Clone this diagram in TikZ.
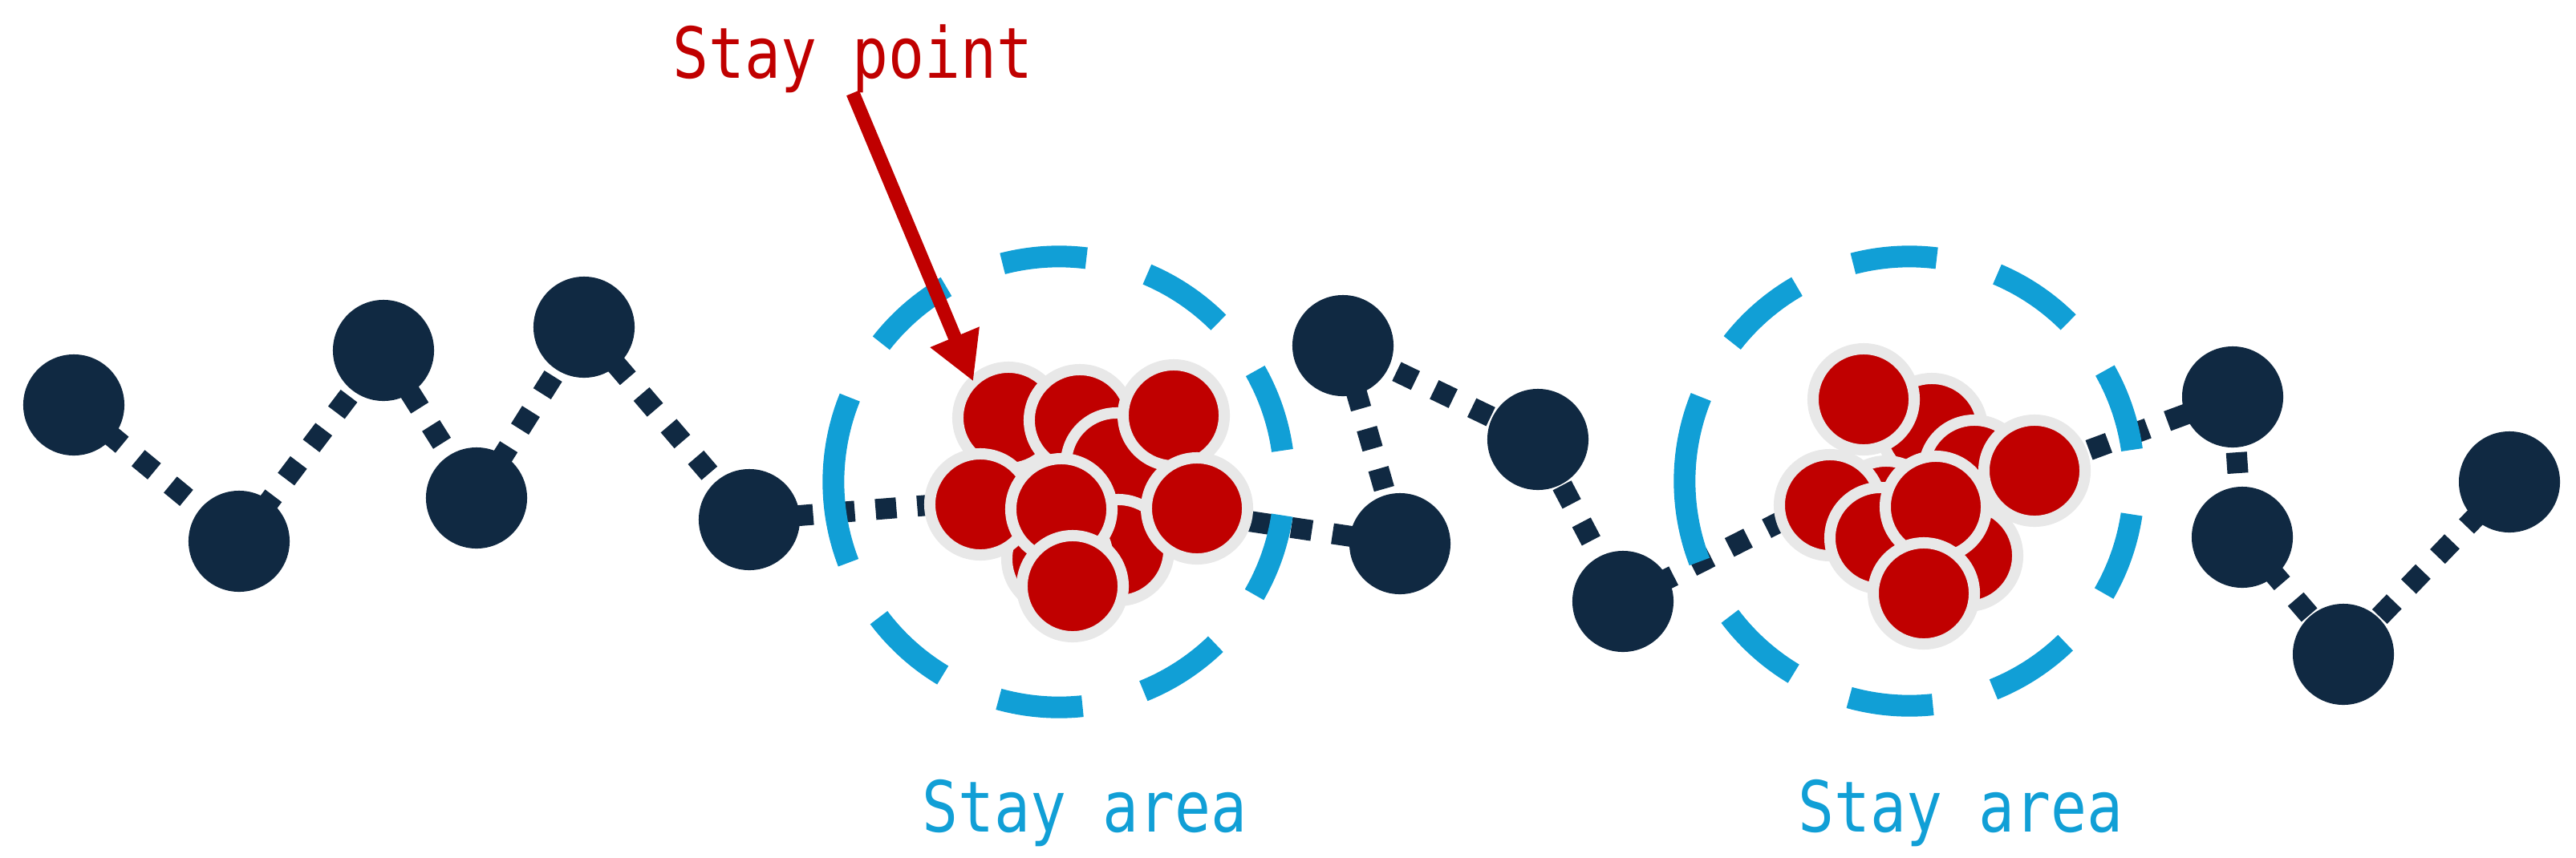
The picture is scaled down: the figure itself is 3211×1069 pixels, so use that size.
\documentclass[tikz,border=0pt]{standalone}
\usepackage{fontspec}
\newfontfamily\labfont[FakeStretch=0.85]{DejaVu Sans Mono}
\usetikzlibrary{arrows.meta}
\definecolor{navy}{HTML}{102942}
\definecolor{areablue}{HTML}{119FD6}
\definecolor{spred}{HTML}{C00000}
\definecolor{ringgray}{HTML}{E8E8E8}
\pgfdeclarelayer{tracklayer}
\pgfdeclarelayer{ringlayer}
\pgfsetlayers{tracklayer,ringlayer,main}
\begin{document}
\begin{tikzpicture}[x=0.01cm,y=-0.01cm,
  track/.style={navy, line width=0.26cm, dash pattern=on 0.26cm off 0.26cm},
  gps/.style={circle, fill=navy, minimum size=1.26cm, inner sep=0pt, outer sep=0pt},
  staypt/.style={circle, fill=spred, draw=ringgray, line width=0.14cm, minimum size=1.26cm, inner sep=0pt, outer sep=0pt},
  arearing/.style={areablue, line width=0.27cm},
  lab/.style={font=\labfont\fontsize{25}{30}\selectfont, inner sep=0pt, anchor=base}]
\useasboundingbox (0,0) rectangle (3211,1069);

% trajectory points
\node[gps] (n1) at (92,505) {};
\node[gps] (n2) at (298,675) {};
\node[gps] (n3) at (478,437) {};
\node[gps] (n4) at (594,621) {};
\node[gps] (n5) at (728,408) {};
\node[gps] (n6) at (934,648) {};
\node[gps] (n7) at (1674,431) {};
\node[gps] (n8) at (1745,678) {};
\node[gps] (n9) at (1917,548) {};
\node[gps] (n10) at (2023,750) {};
\node[gps] (n11) at (2783,495) {};
\node[gps] (n12) at (2795,670) {};
\node[gps] (n13) at (3128,601) {};
\node[gps] (n14) at (2921,816) {};
\coordinate (c1a) at (1220,625);
\coordinate (c1b) at (1490,640);
\coordinate (c2a) at (2250,635);
\coordinate (c2b) at (2540,585);
\coordinate (a1) at (1320,601);
\coordinate (a2) at (2380,600);

% dashed track (bottom layer)
\begin{pgfonlayer}{tracklayer}
\draw[track] (n1.center) -- (n2.center) -- (n3.center) -- (n4.center) -- (n5.center) -- (n6.center)
  -- (c1a) -- (c1b) -- (n8.center) -- (n7.center) -- (n9.center) -- (n10.center)
  -- (c2a) -- (c2b) -- (n11.center) -- (n12.center) -- (n14.center) -- (n13.center);
\end{pgfonlayer}

% stay area rings
\begin{pgfonlayer}{ringlayer}
\foreach \a/\b in {158/201, 217/239, 254.5/276, 292/314, 330/351.5, 8/29.5, 45/67, 83/104.5, 120/142}{
  \draw[arearing] (a1) ++(\a:2.81cm) arc[start angle=\a, end angle=\b, radius=2.81cm];
  \draw[arearing] (a2) ++(\a:2.80cm) arc[start angle=\a, end angle=\b, radius=2.80cm];
}
\end{pgfonlayer}

% stay points, cluster 1
\node[staypt] (A) at (1257,521) {};
\node[staypt] (B) at (1346,524) {};
\node[staypt] (D) at (1392,578) {};
\node[staypt] (C) at (1463,518) {};
\node[staypt] (H) at (1394,686) {};
\node[staypt] (I) at (1318,697) {};
\node[staypt] (E) at (1222,629) {};
\node[staypt] (F) at (1323,635) {};
\node[staypt] (G) at (1492,634) {};
\node[staypt] (J) at (1337,731) {};

% stay points, cluster 2
\node[staypt] (Q) at (2408,535) {};
\node[staypt] (P) at (2323,498) {};
\node[staypt] (Y) at (2351,638) {};
\node[staypt] (R) at (2461,587) {};
\node[staypt] (T) at (2281,630) {};
\node[staypt] (U) at (2344,671) {};
\node[staypt] (W) at (2452,693) {};
\node[staypt] (V) at (2413,632) {};
\node[staypt] (S) at (2536,587) {};
\node[staypt] (X) at (2398,740) {};

% labels
\node[lab, text=spred] (sp) at (1063,97) {Stay point};
\node[lab, text=areablue] (sa1) at (1352,1037) {Stay area};
\node[lab, text=areablue] (sa2) at (2444,1037) {Stay area};

% arrow
\draw[spred, line width=0.17cm, -{Triangle[width=0.62cm,length=0.6cm]}] (sp.south) -- (A.134);
\end{tikzpicture}
\end{document}
